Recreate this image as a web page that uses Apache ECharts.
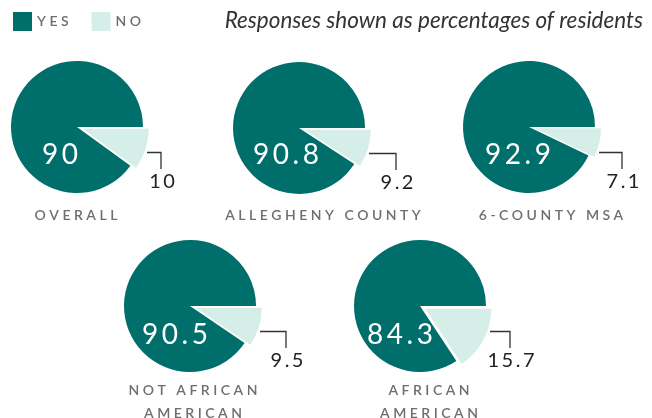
<!DOCTYPE html>
<html><head><meta charset="utf-8">
<script src="https://cdn.jsdelivr.net/npm/echarts@6/dist/echarts.min.js"></script>
<style>html,body{margin:0;padding:0;background:#fff}#c{width:652px;height:418px}</style>
</head><body><div id="c"></div>
<script>
// ---- data ----
const groups = ['OVERALL', 'ALLEGHENY COUNTY', '6-COUNTY MSA', 'NOT AFRICAN\nAMERICAN', 'AFRICAN\nAMERICAN'];
const yesValues = [90, 90.8, 92.9, 90.5, 84.3];
const noValues = [10, 9.2, 7.1, 9.5, 15.7];
const answerNames = ['YES', 'NO'];
const subtitle = 'Responses shown as percentages of residents';

// ---- layout / style ----
const DARK = '#006f6c', LIGHT = '#d6eee8', GRAY = '#6e6e6e';
const FONT = 'Lato, "Open Sans", sans-serif';
const centers = [[77, 127], [299, 128], [529, 127], [190, 306], [420, 306]];
const radius = 66;
const explode = 6;
const yesLabelOffset = [[-17, 28], [-13, 27], [-11, 28], [-15, 29], [-20, 29]];
const leaderX = [84, 97, 93, 96, 90];
const groupLabelX = [76, 323, 551, 193, 429];
const groupLabelY = [215, 215, 215, 402, 402];

const spaced = (s, sep) => s.split('\n').map(line => line.split(' ').map(w => w.split('').join(sep)).join(sep + ' ' + sep)).join('\n');

const series = [];
centers.forEach((c, i) => {
  const total = yesValues[i] + noValues[i];
  const mid = (noValues[i] / total) * Math.PI; // half-angle of the NO slice, clockwise from 3 o'clock
  const ec = [c[0] + Math.cos(mid) * explode, c[1] + Math.sin(mid) * explode];
  // main (YES) slice
  series.push({
    type: 'pie', center: c, radius: radius, startAngle: 0, clockwise: true,
    silent: true, animation: false, emphasis: { disabled: true }, selectedMode: false,
    avoidLabelOverlap: false, itemStyle: { borderWidth: 0 },
    data: [
      { name: 'gap', value: noValues[i], itemStyle: { color: 'rgba(0,0,0,0)' }, label: { show: false }, labelLine: { show: false } },
      { name: answerNames[0], value: yesValues[i], itemStyle: { color: DARK },
        label: { show: true, position: 'inside', formatter: () => spaced(String(yesValues[i]), '\u2009'),
          color: '#fff', fontFamily: FONT, fontSize: 28 },
        labelLine: { show: false } }
    ],
    labelLayout: p => p.dataIndex === 1 ? { x: c[0] + yesLabelOffset[i][0], y: c[1] + yesLabelOffset[i][1], align: 'center', verticalAlign: 'middle' } : {}
  });
  // exploded NO slice
  series.push({
    type: 'pie', center: ec, radius: radius, startAngle: 0, clockwise: true,
    silent: true, animation: false, emphasis: { disabled: true }, selectedMode: false,
    avoidLabelOverlap: false, itemStyle: { borderWidth: 0 },
    data: [
      { name: answerNames[1], value: noValues[i], itemStyle: { color: LIGHT },
        label: { show: true, position: 'outside', formatter: () => spaced(String(noValues[i]), '\u2009'),
          color: '#222', fontFamily: FONT, fontSize: 20 },
        labelLine: { show: true, lineStyle: { color: '#333', width: 1.3 } } },
      { name: 'rest', value: yesValues[i], itemStyle: { color: 'rgba(0,0,0,0)' }, label: { show: false }, labelLine: { show: false } }
    ],
    labelLayout: p => {
      if (p.dataIndex !== 0) return {};
      const cx = c[0], cy = c[1], lx = cx + leaderX[i];
      return {
        x: lx + 1, y: cy + 55, align: 'center', verticalAlign: 'middle',
        labelLinePoints: [[cx + 70, cy + 25.5], [lx, cy + 25.5], [lx, cy + 42]]
      };
    }
  });
});

const titles = [{
  text: subtitle, right: 9, top: 21, textVerticalAlign: 'middle', padding: 0,
  textStyle: { fontFamily: FONT, fontStyle: 'italic', fontWeight: 'normal', fontSize: 22.5, color: '#333' }
}].concat(groups.map((g, i) => ({
  text: spaced(g, ' '), left: groupLabelX[i], top: groupLabelY[i], textAlign: 'center', textVerticalAlign: 'middle', padding: 0,
  textStyle: { fontFamily: FONT, fontWeight: 600, fontSize: 14, color: GRAY, lineHeight: 23.5 }
})));

const chart = echarts.init(document.getElementById('c'), null, { renderer: 'canvas' });
chart.setOption({
  animation: false,
  title: titles,
  legend: {
    left: 13, top: 12, orient: 'horizontal', itemWidth: 19, itemHeight: 19, itemGap: 23, icon: 'rect',
    selectedMode: false, padding: 0,
    data: answerNames,
    formatter: n => spaced(n, ' '),
    textStyle: { fontFamily: FONT, fontWeight: 600, fontSize: 14, color: GRAY }
  },
  series: series
});
</script></body></html>
